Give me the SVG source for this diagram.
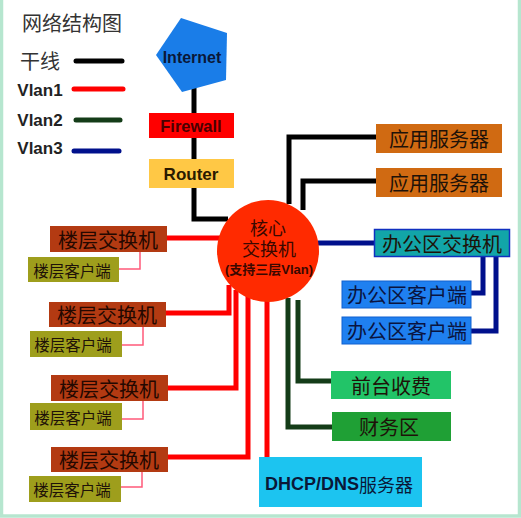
<svg xmlns="http://www.w3.org/2000/svg" width="521" height="518" viewBox="0 0 521 518">
<style>
.cjk{font-family:"Noto Sans CJK SC","Noto Sans",sans-serif;fill:#1e1208;text-anchor:middle;dominant-baseline:central}
.core{font-family:"Liberation Sans","Noto Sans CJK SC",sans-serif;fill:#3a0800;text-anchor:middle;dominant-baseline:central}
.lat{font-family:"Liberation Sans",Arial,sans-serif;font-weight:bold;text-anchor:middle;dominant-baseline:central}
.b{stroke-width:5;fill:none;stroke-linejoin:miter}
.blk{stroke:#000}
.red{stroke:#ff0000}
.grn{stroke:#143c18}
.blu{stroke:#00108c}
.pk{stroke:#ff5a7a;stroke-width:1.5;fill:none}
</style>
<rect x="0" y="0" width="521" height="518" fill="#ffffff"/>
<path d="M1.5 0 V516 H519.5 V0" fill="none" stroke="#b6e6cf" stroke-width="3.5"/>

<g id="legend">
<text class="cjk" x="72" y="22" style="font-size:20px;fill:#333">网络结构图</text>
<text class="cjk" x="40" y="60" style="font-size:20px;fill:#333">干线</text>
<line x1="76" y1="61" x2="122" y2="61" stroke="#000" stroke-width="5" stroke-linecap="round"/>
<text class="lat" x="40" y="90" style="font-size:17px;fill:#222">Vlan1</text>
<line x1="74" y1="89" x2="123" y2="89" stroke="#ff0000" stroke-width="5" stroke-linecap="round"/>
<text class="lat" x="40" y="120" style="font-size:17px;fill:#222">Vlan2</text>
<line x1="76" y1="120" x2="120" y2="120" stroke="#143c18" stroke-width="5" stroke-linecap="round"/>
<text class="lat" x="40" y="148" style="font-size:17px;fill:#222">Vlan3</text>
<line x1="74" y1="151" x2="119" y2="151" stroke="#00108c" stroke-width="5" stroke-linecap="round"/>
</g>

<g id="connectors">
<path class="b blk" d="M194 88 V160"/>
<path class="b blk" d="M194 186 V219 H228"/>
<path class="b blk" d="M289 204 V137 H378"/>
<path class="b blk" d="M303 210 V181 H378"/>
<path class="b blu" d="M318 243 H376"/>
<path class="b blu" d="M483 256 V293 H470"/>
<path class="b blu" d="M496 256 V331 H470"/>
<path class="b grn" d="M298 300 V381 H332"/>
<path class="b grn" d="M288 298 V427 H332"/>
<path class="b red" d="M166 238 H221"/>
<path class="b red" d="M165 313 H229 V285"/>
<path class="b red" d="M167 388 H236 V290"/>
<path class="b red" d="M167 457 H248 V296"/>
<path class="b red" d="M267 300 V458"/>
<path class="pk" d="M140 252 V269 H119"/>
<path class="pk" d="M143 327 V345 H122"/>
<path class="pk" d="M143 401 V419 H122"/>
<path class="pk" d="M142 472 V487 H121"/>
</g>

<g id="internet">
<polygon points="181,18 227,33 226,80 182,92 156,55" fill="#1a7de8"/>
<text class="lat" x="192" y="57" style="font-size:16px;fill:#0a1838">Internet</text>
</g>
<g id="firewall">
<rect x="149" y="113" width="85" height="25" fill="#ff0000"/>
<text class="lat" x="191" y="126" style="font-size:16.5px;fill:#4a0000">Firewall</text>
</g>
<g id="router">
<rect x="149" y="159" width="85" height="29" fill="#ffc845"/>
<text class="lat" x="191" y="174" style="font-size:17px;fill:#2a1a00">Router</text>
</g>

<g id="core">
<circle cx="268" cy="251" r="51" fill="#ff2a00"/>
<text class="core" x="268" y="229" style="font-size:18px">核心</text>
<text class="core" x="269" y="249.5" style="font-size:18px">交换机</text>
<text class="core" x="269" y="269" style="font-size:13px;font-weight:bold">(支持三层Vlan)</text>
</g>

<g id="app1">
<rect x="376" y="124" width="126" height="29" fill="#d06a12"/>
<text class="cjk" x="439" y="138" style="font-size:20px">应用服务器</text>
</g>
<g id="app2">
<rect x="376" y="168" width="126" height="29" fill="#d06a12"/>
<text class="cjk" x="439" y="182" style="font-size:20px">应用服务器</text>
</g>

<g id="office-switch">
<rect x="374.5" y="229.5" width="135" height="27" fill="#12a5a8" stroke="#1030c0" stroke-width="1.5"/>
<text class="cjk" x="442" y="243" style="font-size:20px">办公区交换机</text>
</g>
<g id="office-client1">
<rect x="342" y="281" width="129" height="27" fill="#1f80f0" stroke="#1060d0" stroke-width="1"/>
<text class="cjk" x="407" y="294.5" style="font-size:20px;fill:#0a1440">办公区客户端</text>
</g>
<g id="office-client2">
<rect x="342" y="317" width="129" height="27" fill="#1f80f0" stroke="#1060d0" stroke-width="1"/>
<text class="cjk" x="407" y="330.5" style="font-size:20px;fill:#0a1440">办公区客户端</text>
</g>

<g id="reception">
<rect x="331" y="371" width="120" height="28" fill="#22c468"/>
<text class="cjk" x="391" y="385" style="font-size:20px">前台收费</text>
</g>
<g id="finance">
<rect x="332" y="412" width="119" height="29" fill="#1fa035"/>
<text class="cjk" x="389" y="426.5" style="font-size:20px">财务区</text>
</g>

<g id="dhcp">
<rect x="259" y="457" width="163" height="50" fill="#1cc4f0"/>
<text class="lat" x="339" y="484" style="font-size:18px;fill:#0a1838">DHCP/DNS<tspan style="font-family:'Noto Sans CJK SC',sans-serif;font-weight:normal">服务器</tspan></text>
</g>

<g id="floor-switch1">
<rect x="50" y="226" width="117" height="26" fill="#b33a12"/>
<text class="cjk" x="108" y="239" style="font-size:20px;fill:#240800">楼层交换机</text>
</g>
<g id="floor-client1">
<rect x="28" y="257" width="91" height="25" fill="#9e9e1c"/>
<text class="cjk" x="72" y="269.5" style="font-size:15.5px">楼层客户端</text>
</g>
<g id="floor-switch2">
<rect x="49" y="302" width="117" height="25" fill="#b33a12"/>
<text class="cjk" x="107" y="314.5" style="font-size:20px;fill:#240800">楼层交换机</text>
</g>
<g id="floor-client2">
<rect x="30" y="331" width="92" height="26" fill="#9e9e1c"/>
<text class="cjk" x="73" y="344" style="font-size:15.5px">楼层客户端</text>
</g>
<g id="floor-switch3">
<rect x="51" y="375" width="117" height="26" fill="#b33a12"/>
<text class="cjk" x="109" y="388" style="font-size:20px;fill:#240800">楼层交换机</text>
</g>
<g id="floor-client3">
<rect x="30" y="403" width="92" height="27" fill="#9e9e1c"/>
<text class="cjk" x="73" y="416.5" style="font-size:15.5px">楼层客户端</text>
</g>
<g id="floor-switch4">
<rect x="51" y="447" width="117" height="25" fill="#b33a12"/>
<text class="cjk" x="109" y="459.5" style="font-size:20px;fill:#240800">楼层交换机</text>
</g>
<g id="floor-client4">
<rect x="29" y="476" width="92" height="26" fill="#9e9e1c"/>
<text class="cjk" x="72" y="489" style="font-size:15.5px">楼层客户端</text>
</g>
</svg>
